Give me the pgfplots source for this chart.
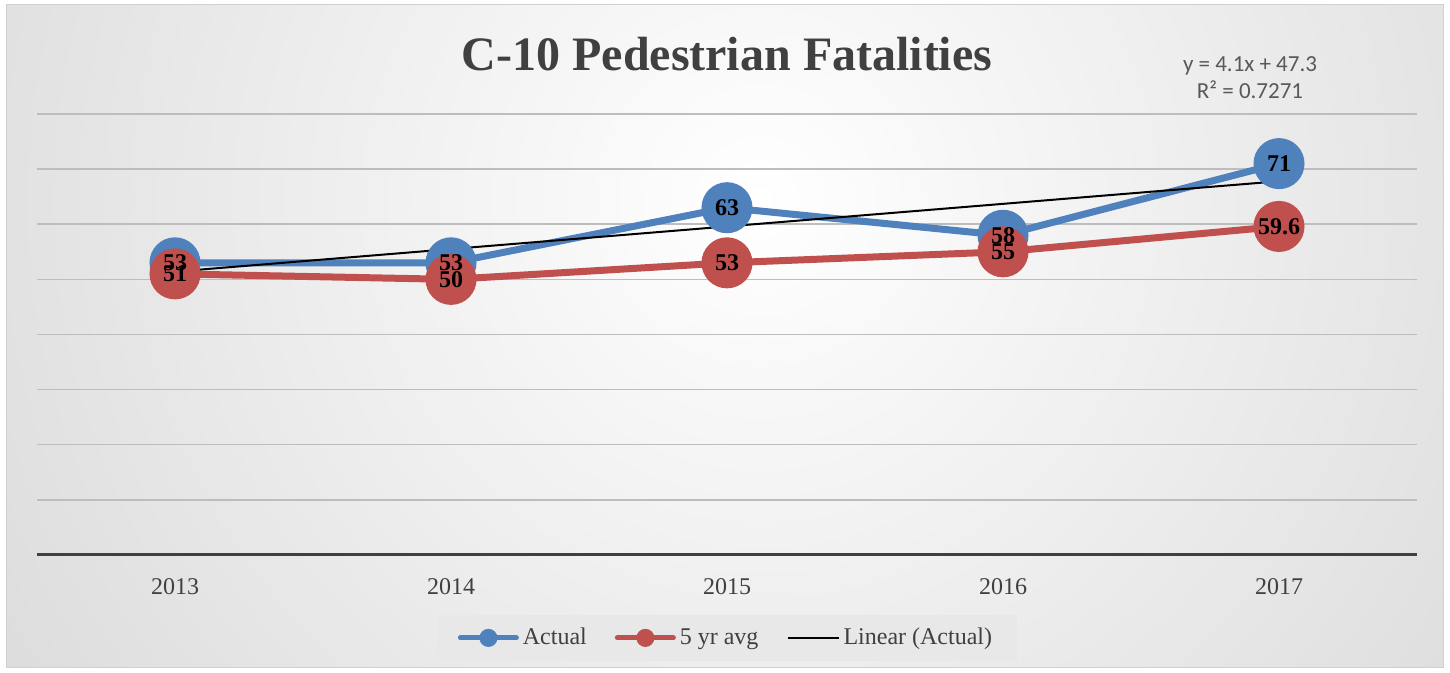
\documentclass[border=0pt]{standalone}
\usepackage{pgfplots}
\pgfplotsset{compat=1.18}
\usepackage{fontspec}
\setmainfont{Liberation Serif}
\newfontfamily\carlito{Carlito}
\definecolor{cblue}{HTML}{4F81BD}
\definecolor{cred}{HTML}{C0504D}
\definecolor{txt}{HTML}{404040}
\definecolor{eqc}{HTML}{595959}
\definecolor{gridc}{HTML}{BDBDBD}
\definecolor{edgec}{HTML}{B9B9B9}
\definecolor{legbg}{HTML}{E8E8E8}
\definecolor{framec}{HTML}{D0D0D0}
\pgfdeclareradialshading{bg}{\pgfpoint{0bp}{0bp}}{color(0bp)=(white); color(50bp)=(edgec)}
\pgfplotsset{
  markleg/.style={legend image code/.code={\draw[##1, line width=2.5pt, line cap=round, mark size=3.25pt, mark repeat=2, mark phase=2] plot coordinates {(0pt,0pt)(14pt,0pt)(28pt,0pt)};}},
  lineleg/.style={legend image code/.code={\draw[##1] (0pt,0pt) -- (25.5pt,0pt);}},
}
\begin{document}
\begin{tikzpicture}[x=0.5pt,y=0.5pt]
\path[use as bounding box] (0,0) rectangle (1450,673);
\fill[white] (0,0) rectangle (1450,673);
\begin{scope}
\clip (6,5) rectangle (1443,668);
\fill[edgec] (6,5) rectangle (1443,668);
\shade[shading=bg] (760,473) circle (900);
\end{scope}
\draw[framec, line width=0.5pt] (6,5) rectangle (1443,668);
\node[font=\bfseries\fontsize{24}{28}\selectfont, text=txt] at (727,619) {C-10 Pedestrian Fatalities};
\node[font=\carlito\fontsize{11.5}{13}\selectfont, text=eqc, anchor=base] at (1250,601) {y = 4.1x + 47.3};
\node[font=\carlito\fontsize{11.5}{13}\selectfont, text=eqc, anchor=base] at (1250,574) {R² = 0.7271};
\begin{axis}[
  at={(18.5pt,59pt)}, anchor=south west, scale only axis,
  width=690pt, height=220.5pt,
  xmin=-0.5, xmax=4.5, ymin=0, ymax=80,
  axis line style={draw=none},
  xtick={0,1,2,3,4}, xticklabels={2013,2014,2015,2016,2017},
  ytick={10,20,30,40,50,60,70,80}, yticklabels={},
  ymajorgrids, grid style={gridc, line width=0.75pt},
  major tick length=0pt,
  tick label style={font=\fontsize{12}{14}\selectfont, text=txt},
  xticklabel style={anchor=center, yshift=-16pt},
  clip=false,
  legend columns=3,
  legend style={at={(0.5,-0.188)}, anchor=center, draw=none, fill=legbg,
    font=\fontsize{12}{14}\selectfont, text=txt,
    inner xsep=10.5pt, inner ysep=4.5pt,
    nodes={inner xsep=2pt},
    /tikz/every even column/.append style={column sep=12pt}},
]
\addplot[cblue, line width=3.5pt, mark=*, mark size=11pt, mark options={fill=cblue, draw=none}, markleg]
  coordinates {(0,53)(1,53)(2,63)(3,58)(4,71)};
\addlegendentry{Actual}
\addplot[cred, line width=3.5pt, mark=*, mark size=11pt, mark options={fill=cred, draw=none}, markleg]
  coordinates {(0,51)(1,50)(2,53)(3,55)(4,59.6)};
\addlegendentry{5 yr avg}
\addplot[black, line width=1pt, lineleg]
  coordinates {(0,51.4)(4,67.8)};
\addlegendentry{Linear (Actual)}
\addplot[draw=none, forget plot, nodes near coords, point meta=explicit symbolic,
  every node near coord/.append style={anchor=center, font=\bfseries\fontsize{12}{14}\selectfont, text=black}]
  coordinates {(0,53)[53] (1,53)[53] (2,63)[63] (3,58)[58] (4,71)[71]};
\addplot[draw=none, forget plot, nodes near coords, point meta=explicit symbolic,
  every node near coord/.append style={anchor=center, font=\bfseries\fontsize{12}{14}\selectfont, text=black}]
  coordinates {(0,51)[51] (1,50)[50] (2,53)[53] (3,55)[55] (4,59.6)[59.6]};
\draw[txt, line width=1.5pt] (rel axis cs:0,0) -- (rel axis cs:1,0);
\end{axis}
\end{tikzpicture}
\end{document}
